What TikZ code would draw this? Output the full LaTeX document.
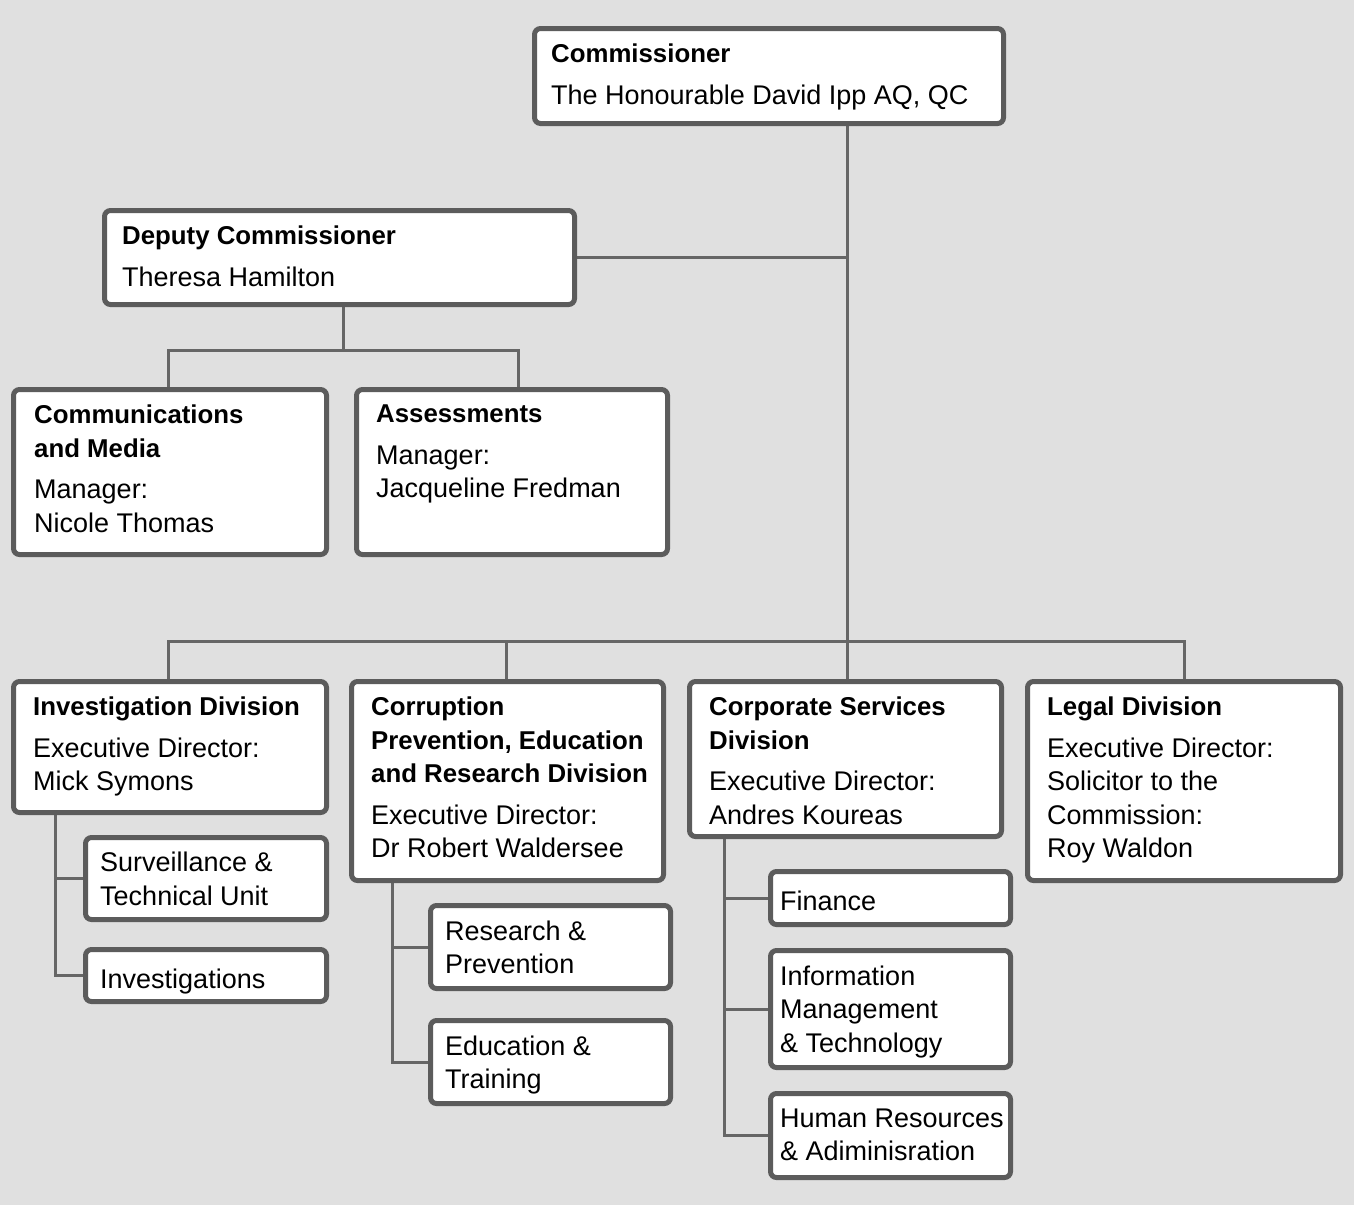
\documentclass[tikz,border=0pt]{standalone}
\usepackage{fontspec}
\setmainfont{Liberation Sans}
\usepackage{xcolor}
\usetikzlibrary{positioning,backgrounds}

\definecolor{pagegray}{HTML}{E0E0E0}
\definecolor{boxline}{HTML}{5C5C5C}
\definecolor{linkgray}{HTML}{666666}

% bold heading lines, a little narrower than the body
\newcommand{\hd}[1]{{\fontsize{25.8}{33.5}\selectfont\bfseries #1}}

\tikzset{
  unit/.style={draw=boxline, line width=5pt, rounded corners=6pt, fill=white,
    anchor=north west, inner sep=0pt},
  txt/.style={anchor=north west, align=left, inner sep=0pt,
    font=\fontsize{27}{33.5}\selectfont, execute at begin node=\strut},
  link/.style={draw=linkgray, line width=3pt},
}

\begin{document}
\begin{tikzpicture}[x=1pt, y=-1pt]
		\begin{pgfonlayer}{background}
		\fill[pagegray] (0,0) rectangle (1354,1205);
		\end{pgfonlayer}
		\useasboundingbox (0,0) rectangle (1354,1205);

		% top
		\node[unit, minimum width=469, minimum height=95] (comm) at (532,26) {};
		\node[txt] (comm-t) at ([shift={(19,18)}]comm.north west)
			{\hd{Commissioner}\\[8pt]The Honourable David Ipp AQ, QC};

		\node[unit, minimum width=470, minimum height=94] (deputy) at (102,208) {};
		\node[txt] (deputy-t) at ([shift={(20,18)}]deputy.north west)
			{\hd{Deputy Commissioner}\\[8pt]Theresa Hamilton};

		% under the deputy
		\node[unit, minimum width=313, minimum height=165] (media) at (11,387) {};
		\node[txt] (media-t) at ([shift={(23,18)}]media.north west)
			{\hd{Communications}\\\hd{and Media}\\[8pt]Manager:\\Nicole Thomas};

		\node[unit, minimum width=311, minimum height=165] (assess) at (354,387) {};
		\node[txt] (assess-t) at ([shift={(22,18)}]assess.north west)
			{\hd{Assessments}\\[8pt]Manager:\\Jacqueline Fredman};

		% divisions
		\node[unit, minimum width=313, minimum height=131] (invest) at (11,679) {};
		\node[txt] (invest-t) at ([shift={(22,18)}]invest.north west)
			{\hd{Investigation Division}\\[8pt]Executive Director:\\Mick Symons};

		\node[unit, minimum width=312, minimum height=199] (cpe) at (349,679) {};
		\node[txt] (cpe-t) at ([shift={(22,18)}]cpe.north west)
			{\hd{Corruption}\\\hd{Prevention, Education}\\\hd{and Research Division}\\[8pt]Executive Director:\\Dr Robert Waldersee};

		\node[unit, minimum width=312, minimum height=155] (corp) at (687,679) {};
		\node[txt] (corp-t) at ([shift={(22,18)}]corp.north west)
			{\hd{Corporate Services}\\\hd{Division}\\[8pt]Executive Director:\\Andres Koureas};

		\node[unit, minimum width=313, minimum height=199] (legal) at (1025,679) {};
		\node[txt] (legal-t) at ([shift={(22,18)}]legal.north west)
			{\hd{Legal Division}\\[8pt]Executive Director:\\Solicitor to the\\Commission:\\Roy Waldon};

		% units
		\node[unit, minimum width=241, minimum height=82] (surv) at (83,835) {};
		\node[txt] (surv-t) at ([shift={(17,17)}]surv.north west)
			{Surveillance \&\\Technical Unit};
		\node[unit, minimum width=241, minimum height=52] (invs) at (83,947) {};
		\node[txt] (invs-t) at ([shift={(17,17.5)}]invs.north west) {Investigations};

		\node[unit, minimum width=240, minimum height=83] (research) at (428,903) {};
		\node[txt] (research-t) at ([shift={(17,17.5)}]research.north west)
			{Research \&\\Prevention};
		\node[unit, minimum width=240, minimum height=83] (edu) at (428,1018) {};
		\node[txt] (edu-t) at ([shift={(17,17.5)}]edu.north west)
			{Education \&\\Training};

		\node[unit, minimum width=240, minimum height=53] (fin) at (768,869) {};
		\node[txt] (fin-t) at ([shift={(12,17.5)}]fin.north west) {Finance};
		\node[unit, minimum width=240, minimum height=117] (imt) at (768,948) {};
		\node[txt] (imt-t) at ([shift={(12,17.5)}]imt.north west)
			{Information\\Management\\\& Technology};
		\node[unit, minimum width=240, minimum height=84] (hr) at (768,1091) {};
		\node[txt] (hr-t) at ([shift={(12,17.5)}]hr.north west)
			{Human Resources\\\& Adiminisration};

		% connectors
		\coordinate (hub) at (847,641);
		\coordinate (dsplit) at (343,350);
		\coordinate (d-l) at (168,350);
		\coordinate (d-r) at (518,350);
		\coordinate (b-l) at (168,641);
		\coordinate (b-m) at (506,641);
		\coordinate (b-r) at (1184,641);
		\coordinate (s-inv) at (55,0);
		\coordinate (s-cpe) at (392,0);
		\coordinate (s-corp) at (724,0);

		\begin{pgfonlayer}{background}
		\draw[link] (comm.south -| hub) -- (hub);
		\draw[link] (deputy.east) -- (deputy.east -| hub);
		\draw[link] (deputy.south -| dsplit) -- (dsplit);
		\draw[link] (media.north -| d-l) -- (d-l) -- (d-r) -- (assess.north -| d-r);
		\draw[link] (invest.north -| b-l) -- (b-l) -- (b-r) -- (legal.north -| b-r);
		\draw[link] (cpe.north -| b-m) -- (b-m);
		\draw[link] (corp.north -| hub) -- (hub);

		\draw[link] (invest.south -| s-inv) |- (surv.west);
		\draw[link] (invest.south -| s-inv) |- (invs.west);
		\draw[link] (cpe.south -| s-cpe) |- (research.west);
		\draw[link] (cpe.south -| s-cpe) |- (edu.west);
		\draw[link] (corp.south -| s-corp) |- (fin.west);
		\draw[link] (corp.south -| s-corp) |- (imt.west);
		\draw[link] (corp.south -| s-corp) |- (hr.west);
		\end{pgfonlayer}
	\end{tikzpicture}
\end{document}
